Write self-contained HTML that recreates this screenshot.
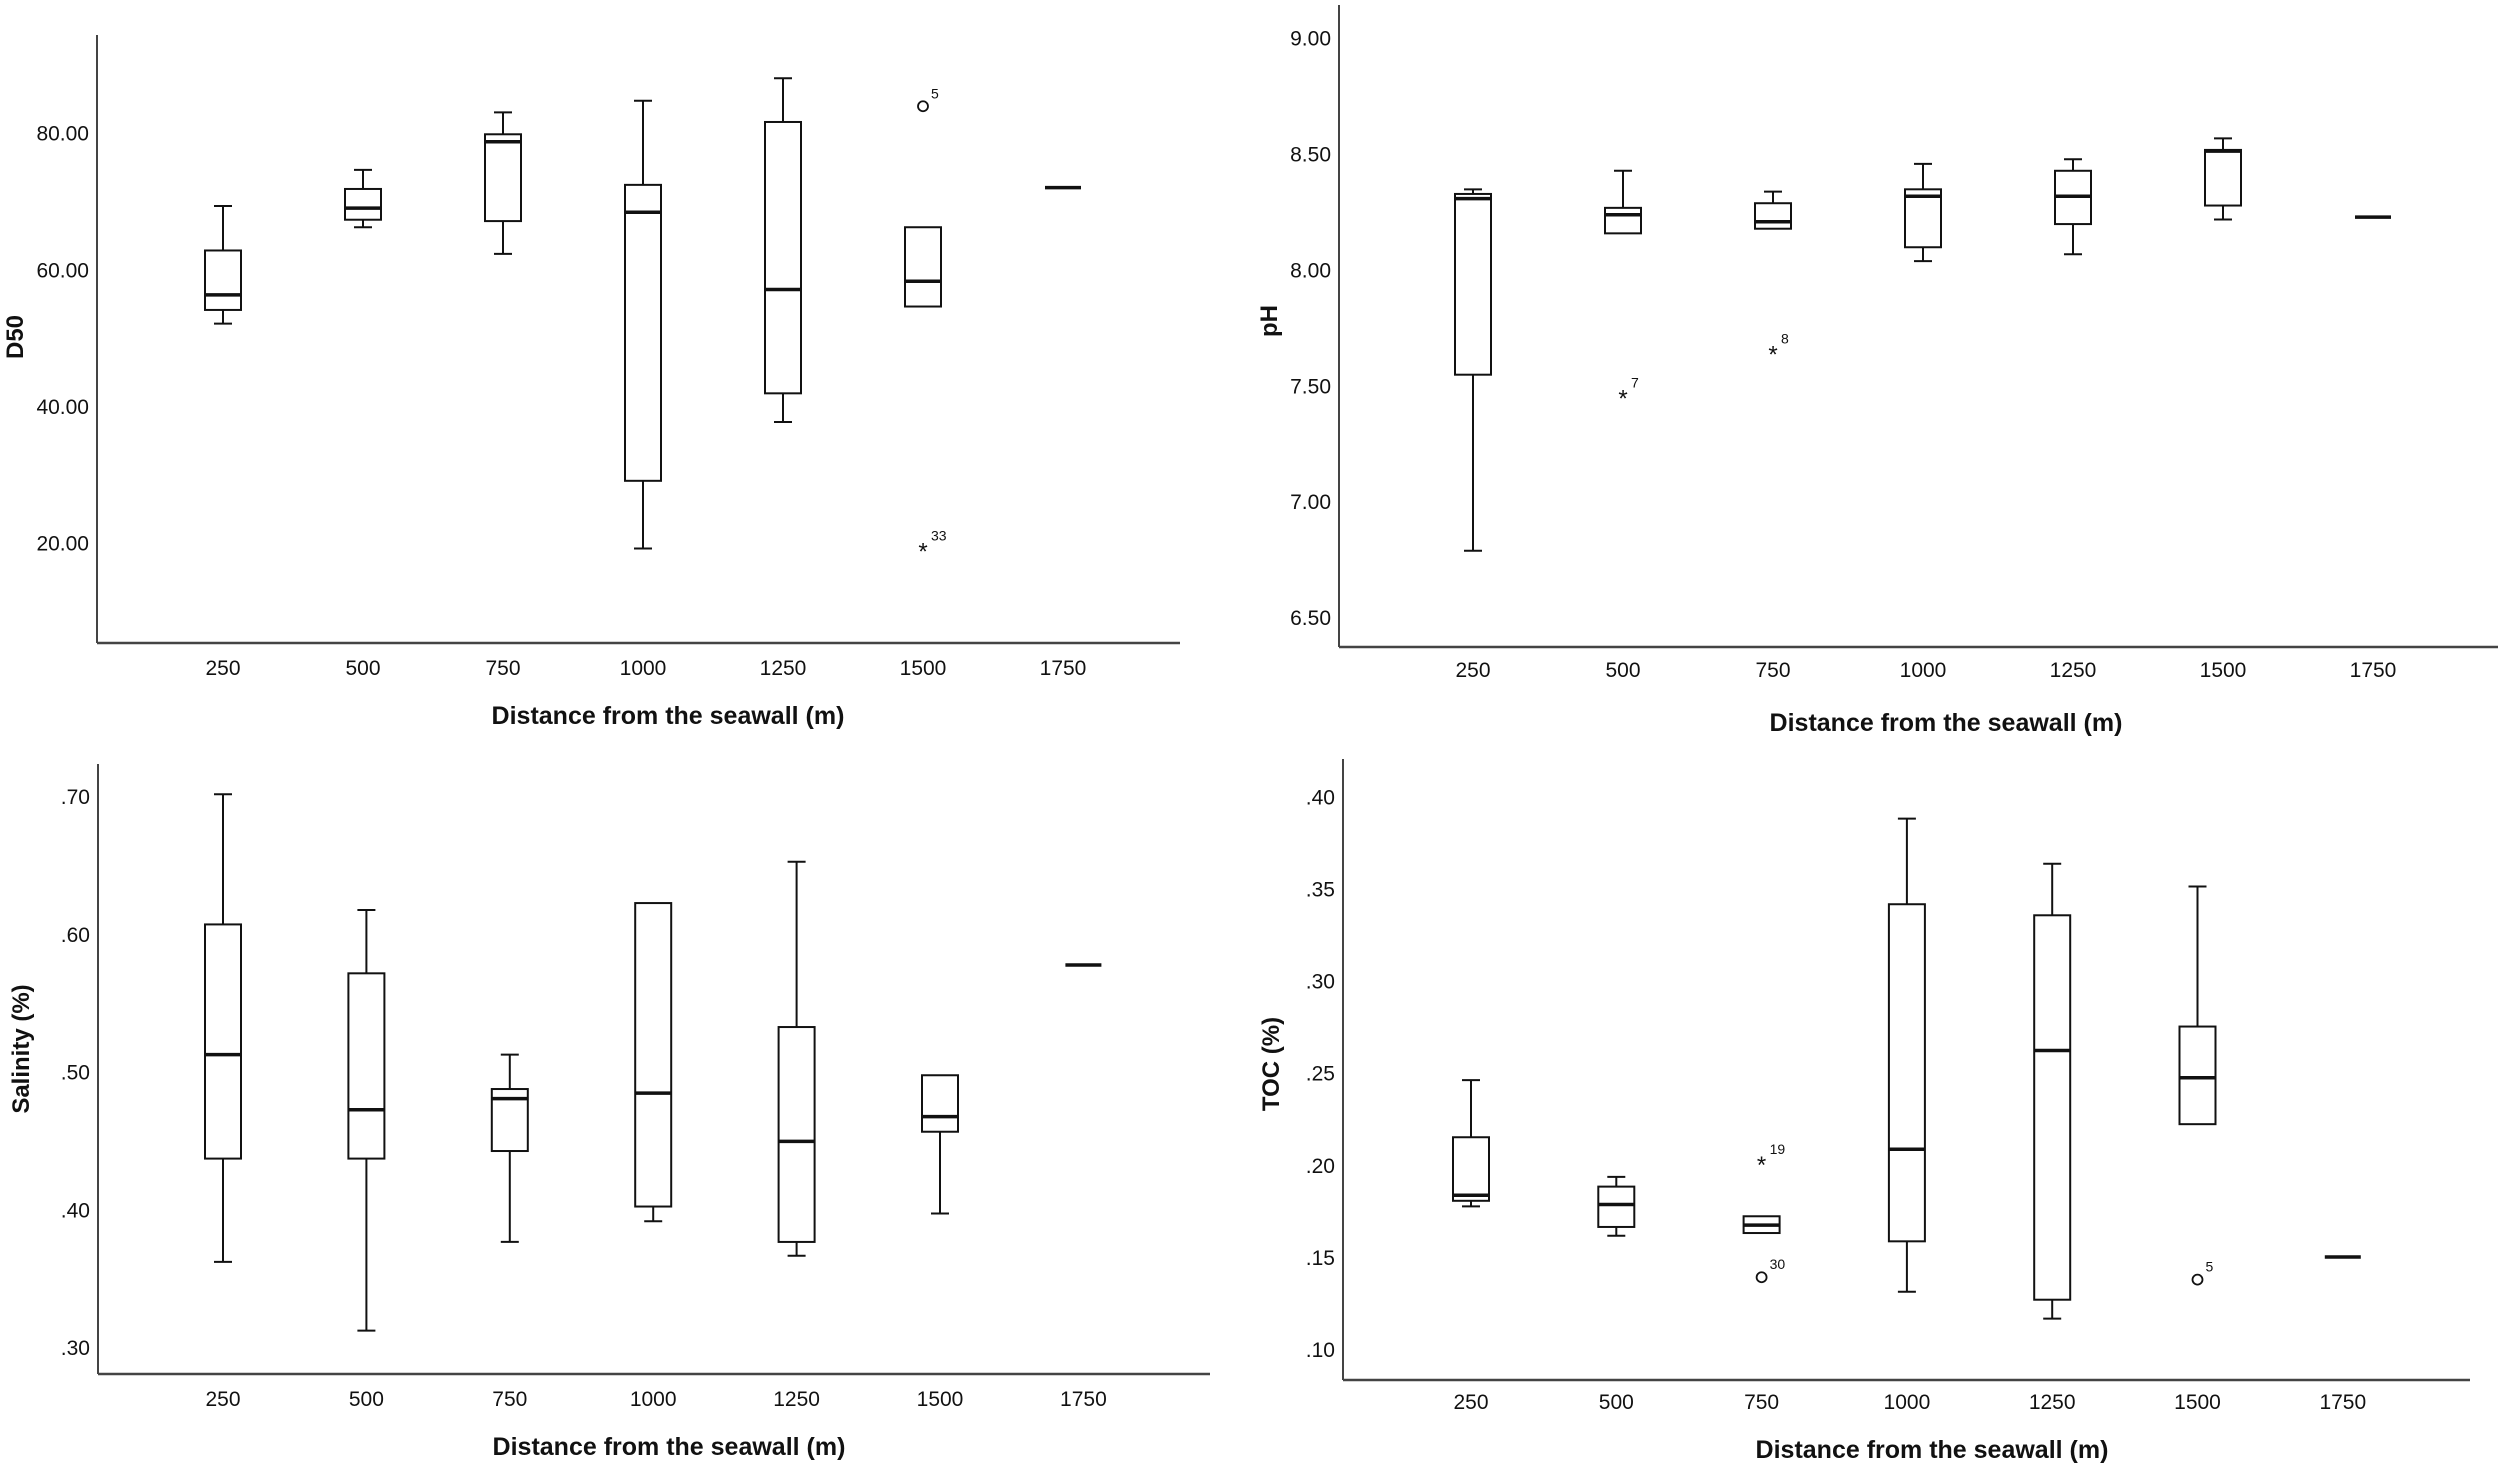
<!DOCTYPE html>
<html><head><meta charset="utf-8"><style>
html,body{margin:0;padding:0;background:#fff}
svg{display:block}
text{font-family:"Liberation Sans",sans-serif;fill:#111}
</style></head><body>
<svg id="fig" width="2500" height="1471" viewBox="0 0 2500 1471" xmlns="http://www.w3.org/2000/svg">
<rect width="2500" height="1471" fill="#fff"/>
</svg>
<script>
const categories = ["250","500","750","1000","1250","1500","1750"];

// D50
const d50Min = [52.2, 66.3, 62.4, 19.3, 37.8, null, 72.1];
const d50Q1  = [54.2, 67.4, 67.2, 29.2, 42.0, 54.7, 72.1];
const d50Med = [56.4, 69.1, 78.8, 68.5, 57.2, 58.4, 72.1];
const d50Q3  = [62.9, 71.9, 79.9, 72.5, 81.7, 66.3, 72.1];
const d50Max = [69.4, 74.7, 83.1, 84.8, 88.1, null, 72.1];
const d50OutCat = [5, 5];
const d50OutVal = [84.0, 19.3];
const d50OutType = ["o", "*"];
const d50OutLabel = ["5", "33"];
const d50Ticks = [20, 40, 60, 80];
const d50TickLabels = ["20.00", "40.00", "60.00", "80.00"];

// pH
const phMin = [6.79, null, null, 8.04, 8.07, 8.22, 8.23];
const phQ1  = [7.55, 8.16, 8.18, 8.10, 8.20, 8.28, 8.23];
const phMed = [8.31, 8.24, 8.21, 8.32, 8.32, 8.515, 8.23];
const phQ3  = [8.33, 8.27, 8.29, 8.35, 8.43, 8.52, 8.23];
const phMax = [8.35, 8.43, 8.34, 8.46, 8.48, 8.57, 8.23];
const phOutCat = [1, 2];
const phOutVal = [7.46, 7.65];
const phOutType = ["*", "*"];
const phOutLabel = ["7", "8"];
const phTicks = [6.5, 7.0, 7.5, 8.0, 8.5, 9.0];
const phTickLabels = ["6.50", "7.00", "7.50", "8.00", "8.50", "9.00"];

// Salinity
const salMin = [0.3625, 0.3126, 0.377, 0.392, 0.367, 0.3976, 0.578];
const salQ1  = [0.4375, 0.4375, 0.443, 0.4027, 0.377, 0.457, 0.578];
const salMed = [0.513, 0.473, 0.481, 0.485, 0.450, 0.468, 0.578];
const salQ3  = [0.6075, 0.572, 0.488, 0.623, 0.533, 0.498, 0.578];
const salMax = [0.702, 0.618, 0.513, null, 0.653, null, 0.578];
const salOutCat = [];
const salOutVal = [];
const salOutType = [];
const salOutLabel = [];
const salTicks = [0.3, 0.4, 0.5, 0.6, 0.7];
const salTickLabels = [".30", ".40", ".50", ".60", ".70"];

// TOC
const tocMin = [0.178, 0.162, null, 0.1316, 0.117, null, 0.1505];
const tocQ1  = [0.181, 0.1668, 0.1635, 0.159, 0.1273, 0.2226, 0.1505];
const tocMed = [0.184, 0.179, 0.1678, 0.209, 0.2626, 0.2478, 0.1505];
const tocQ3  = [0.2155, 0.1887, 0.1726, 0.342, 0.336, 0.2756, 0.1505];
const tocMax = [0.2465, 0.194, null, 0.3885, 0.364, 0.3516, 0.1505];
const tocOutCat = [2, 2, 5];
const tocOutVal = [0.202, 0.1395, 0.1382];
const tocOutType = ["*", "o", "o"];
const tocOutLabel = ["19", "30", "5"];
const tocTicks = [0.10, 0.15, 0.20, 0.25, 0.30, 0.35, 0.40];
const tocTickLabels = [".10", ".15", ".20", ".25", ".30", ".35", ".40"];

const NS = "http://www.w3.org/2000/svg";
const svg = document.getElementById("fig");
function mk(tag, attrs, parent) {
  const e = document.createElementNS(NS, tag);
  for (const k in attrs) e.setAttribute(k, attrs[k]);
  parent.appendChild(e);
  return e;
}

function panel(cfg) {
  const g = mk("g", {}, svg);
  
  
  const yS = v => cfg.yA + (v - cfg.vA) * (cfg.yB - cfg.yA) / (cfg.vB - cfg.vA);
  const xS = i => cfg.x0 + i * cfg.step;
  // axes
  const ya = mk("line", {x1: cfg.ax, y1: cfg.top, x2: cfg.ax, y2: cfg.base, stroke: "#444", "stroke-width": 2}, g);
  
  
  const xa = mk("line", {x1: cfg.ax, y1: cfg.base, x2: cfg.right, y2: cfg.base, stroke: "#444", "stroke-width": 2.5}, g);
  
  
  // y ticks
  cfg.ticks.forEach((t, i) => {
    const tx = mk("text", {x: cfg.ax - 8, y: yS(t) + 7, "text-anchor": "end", "font-size": 21}, g);
    tx.textContent = cfg.tickLabels[i];
    
    
  });
  // x labels
  categories.forEach((c, i) => {
    const tx = mk("text", {x: xS(i), y: cfg.tickY + 7, "text-anchor": "middle", "font-size": 21}, g);
    tx.textContent = c;
    
    
  });
  const xt = mk("text", {x: cfg.titleX, y: cfg.titleY + 9, "text-anchor": "middle", "font-size": 25, "font-weight": "bold"}, g);
  xt.textContent = "Distance from the seawall (m)";
  
  
  const yt = mk("text", {x: 0, y: 0, "text-anchor": "middle", "font-size": 24, "font-weight": "bold",
    transform: `translate(${cfg.ylX + 9},${cfg.ylY}) rotate(-90)`}, g);
  yt.textContent = cfg.ylabel;
  
  
  // boxes
  const bw = 36, cw = 18;
  categories.forEach((c, i) => {
    const x = xS(i);
    const bg = mk("g", {stroke: "#111", fill: "none"}, g);
    
    
    const q1 = yS(cfg.q1[i]), q3 = yS(cfg.q3[i]), md = yS(cfg.med[i]);
    if (cfg.max[i] !== null && cfg.max[i] !== cfg.q3[i]) {
      const ym = yS(cfg.max[i]);
      mk("line", {x1: x, y1: q3, x2: x, y2: ym, "stroke-width": 2}, bg);
      mk("line", {x1: x - cw/2, y1: ym, x2: x + cw/2, y2: ym, "stroke-width": 2}, bg);
    }
    if (cfg.min[i] !== null && cfg.min[i] !== cfg.q1[i]) {
      const ym = yS(cfg.min[i]);
      mk("line", {x1: x, y1: q1, x2: x, y2: ym, "stroke-width": 2}, bg);
      mk("line", {x1: x - cw/2, y1: ym, x2: x + cw/2, y2: ym, "stroke-width": 2}, bg);
    }
    if (Math.abs(q1 - q3) > 0.5) {
      mk("rect", {x: x - bw/2, y: q3, width: bw, height: q1 - q3, "stroke-width": 2, fill: "#fff"}, bg);
    }
    mk("line", {x1: x - bw/2, y1: md, x2: x + bw/2, y2: md, "stroke-width": 3.5}, bg);
  });
  // outliers
  cfg.outCat.forEach((ci, k) => {
    const x = xS(ci), y = yS(cfg.outVal[k]);
    let m;
    if (cfg.outType[k] === "o") {
      m = mk("circle", {cx: x, cy: y, r: 5, fill: "none", stroke: "#111", "stroke-width": 1.8}, g);
    } else {
      m = mk("text", {x: x, y: y + 11, "text-anchor": "middle", "font-size": 24}, g);
      m.textContent = "*";
    }
    
    
    const lb = mk("text", {x: x + 8, y: y - 8, "font-size": 14}, g);
    lb.textContent = cfg.outLabel[k];
    
    
  });
}

panel({name: "d50-panel", ylabel: "D50", ax: 97, right: 1180, top: 35, base: 643,
  x0: 223, step: 140, vA: 80, yA: 133.6, vB: 20, yB: 543.7,
  ticks: d50Ticks, tickLabels: d50TickLabels, tickY: 668, titleX: 668, titleY: 715, ylX: 14, ylY: 337,
  min: d50Min, q1: d50Q1, med: d50Med, q3: d50Q3, max: d50Max,
  outCat: d50OutCat, outVal: d50OutVal, outType: d50OutType, outLabel: d50OutLabel});
panel({name: "ph-panel", ylabel: "pH", ax: 1339, right: 2498, top: 5, base: 647,
  x0: 1473, step: 150, vA: 9, yA: 38.7, vB: 6.5, yB: 618,
  ticks: phTicks, tickLabels: phTickLabels, tickY: 670, titleX: 1946, titleY: 722, ylX: 1268, ylY: 321,
  min: phMin, q1: phQ1, med: phMed, q3: phQ3, max: phMax,
  outCat: phOutCat, outVal: phOutVal, outType: phOutType, outLabel: phOutLabel});
panel({name: "salinity-panel", ylabel: "Salinity (%)", ax: 98, right: 1210, top: 764, base: 1374,
  x0: 223, step: 143.4, vA: 0.7, yA: 797, vB: 0.3, yB: 1348,
  ticks: salTicks, tickLabels: salTickLabels, tickY: 1399, titleX: 669, titleY: 1446, ylX: 20, ylY: 1049,
  min: salMin, q1: salQ1, med: salMed, q3: salQ3, max: salMax,
  outCat: salOutCat, outVal: salOutVal, outType: salOutType, outLabel: salOutLabel});
panel({name: "toc-panel", ylabel: "TOC (%)", ax: 1343, right: 2470, top: 759, base: 1380,
  x0: 1471, step: 145.3, vA: 0.4, yA: 797.4, vB: 0.1, yB: 1350,
  ticks: tocTicks, tickLabels: tocTickLabels, tickY: 1402, titleX: 1932, titleY: 1449, ylX: 1270, ylY: 1064,
  min: tocMin, q1: tocQ1, med: tocMed, q3: tocQ3, max: tocMax,
  outCat: tocOutCat, outVal: tocOutVal, outType: tocOutType, outLabel: tocOutLabel});
</script>
</body></html>
